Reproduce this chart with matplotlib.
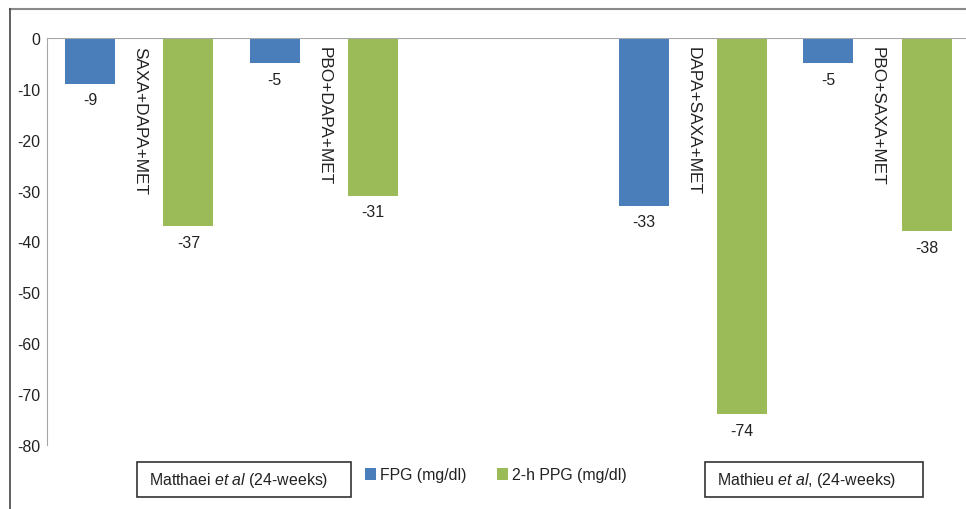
import numpy as np
import matplotlib
matplotlib.use("Agg")
import matplotlib.pyplot as plt
from matplotlib.lines import Line2D
from matplotlib.patches import Rectangle

plt.rcParams['font.family'] = ['Liberation Sans', 'DejaVu Sans']
plt.rcParams['mathtext.fontset'] = 'custom'
plt.rcParams['mathtext.rm'] = 'Liberation Sans'
plt.rcParams['mathtext.it'] = 'Liberation Sans:italic'

# treatment arms (slot index 2 is left empty between the two studies)
arms = ["SAXA+DAPA+MET", "PBO+DAPA+MET", "DAPA+SAXA+MET", "PBO+SAXA+MET"]
slots = [0, 1, 3, 4]
fpg = [-9, -5, -33, -5]
ppg = [-37, -31, -74, -38]
series_names = ["FPG (mg/dl)", "2-h PPG (mg/dl)"]
studies = [r"Matthaei $et\ al$ (24-weeks)", r"Mathieu $et\ al$, (24-weeks)"]
yticks = np.arange(-80, 1, 10)

BLUE = "#4A7EBB"
GREEN = "#9BBB59"
GRID = "#A6A6A6"
TXT = "#222222"
FS = 11.4
W, H = 966, 510

fig = plt.figure(figsize=(W / 100, H / 100), dpi=100)
ax = fig.add_axes([47 / W, 1 - 446 / H, 1 - 47 / W, (446 - 39) / H])

x = np.array(slots, dtype=float)
off = 0.266
bw = 0.271
b1 = ax.bar(x - off, fpg, bw, color=BLUE, label=series_names[0])
b2 = ax.bar(x + off, ppg, bw, color=GREEN, label=series_names[1])

for xs, vals in ((x - off, fpg), (x + off, ppg)):
    for xi, v in zip(xs, vals):
        ax.annotate(str(v), (xi, v), xytext=(0, -6), textcoords="offset points",
                    ha="center", va="top", fontsize=FS, color=TXT)

for xi, name in zip(x, arms):
    ax.annotate(name, (xi, 0), xytext=(0, -6), textcoords="offset points",
                rotation=-90, ha="center", va="top", fontsize=12.4, color=TXT)

ax.set_xlim(-0.5, 4.48)
ax.set_ylim(-80, 0)
ax.set_yticks(yticks)
ax.set_yticklabels([str(t) for t in yticks])
ax.set_xticks([])
ax.tick_params(axis="y", length=0, pad=4.5, labelsize=FS, labelcolor=TXT)
for s in ("top", "right", "bottom"):
    ax.spines[s].set_visible(False)
ax.spines["left"].set_color(GRID)
ax.axhline(0, color=GRID, lw=1.5, zorder=3)

# outer frame
fig.add_artist(Line2D([10 / W, 1], [1 - 10 / H] * 2, color="#8A8A8A", lw=1.5))
fig.add_artist(Line2D([10 / W] * 2, [0, 1 - 10 / H], color="#444444", lw=1.2))

# study boxes under the axis
for (x0, x1), label in zip([(137, 351), (705, 923)], studies):
    fig.add_artist(Rectangle((x0 / W, 1 - 498 / H), (x1 - x0) / W, 35 / H,
                             transform=fig.transFigure, fill=False,
                             edgecolor="#333333", lw=1.2))
    fig.text((x0 + 12) / W, 1 - 481 / H, label, ha="left", va="center",
             fontsize=FS, color=TXT)

fig.legend(handles=[b1, b2], loc="center left", bbox_to_anchor=(365 / W, 1 - 476 / H),
           ncol=2, frameon=False, fontsize=FS, handlelength=0.7, handleheight=0.7,
           handletextpad=0.25, columnspacing=1.9, borderpad=0, borderaxespad=0,
           labelcolor=TXT)

fig.savefig("out.png", dpi=100)
